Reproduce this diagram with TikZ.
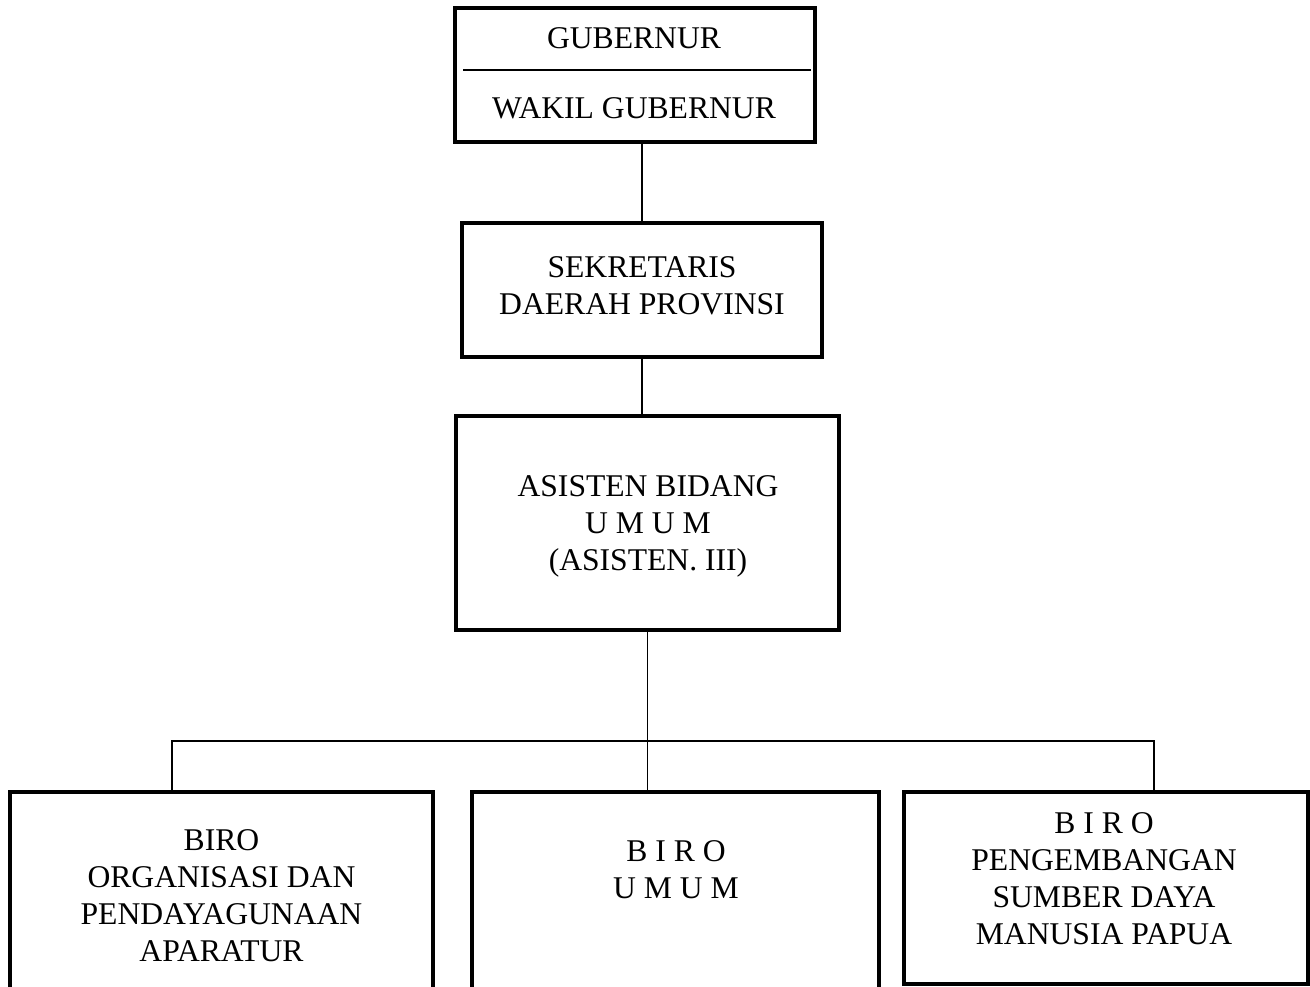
\documentclass[tikz,border=0pt]{standalone}
\usepackage{fontspec}
\setmainfont{Liberation Serif}
\usetikzlibrary{positioning}

\tikzset{
	kotak/.style={draw, rectangle, line width=2.3pt, inner sep=0pt},
	teks/.style={align=center, inner sep=0pt, font=\fontsize{18}{21}\selectfont},
	garis/.style={line width=1.1pt},
}

\begin{document}
\begin{tikzpicture}[x=0.02cm, y=-0.02cm]

	\useasboundingbox (0,0) rectangle (1310,986);

	% kotak-kotak
	\node[kotak, minimum width=7.2cm,  minimum height=2.68cm] (gub)  at (635,75)     {};
	\node[kotak, minimum width=7.2cm,  minimum height=2.68cm] (sekda) at (642,290)   {};
	\node[kotak, minimum width=7.66cm, minimum height=4.28cm] (asis) at (647.5,523)  {};
	\node[kotak, minimum width=8.46cm, minimum height=4.06cm] (b1)   at (221.5,893.5) {};
	\node[kotak, minimum width=8.14cm, minimum height=4.06cm] (b2)   at (675.5,893.5) {};
	\node[kotak, minimum width=8.08cm, minimum height=3.84cm] (b3)   at (1106,888)   {};

	% teks
	\node[teks] (gubt)   at (634,38)   {GUBERNUR};
	\node[teks] (wagubt) at (634,108)  {WAKIL GUBERNUR};
	\node[teks] (sekdat) at (642,286)  {SEKRETARIS\\DAERAH PROVINSI};
	\node[teks] (asist)  at (648,526)  {ASISTEN BIDANG\\U M U M\\(ASISTEN. III)};
	\node[teks] (b1t)    at (221.5,896) {BIRO\\ORGANISASI DAN\\PENDAYAGUNAAN\\APARATUR};
	\node[teks] (b2t)    at (676,870)  {B I R O\\U M U M};
	\node[teks] (b3t)    at (1104,879) {B I R O\\PENGEMBANGAN\\SUMBER DAYA\\MANUSIA PAPUA};

	\draw[line width=1pt] (463,70) -- (811,70);

	% garis hubung
	\coordinate (k1) at (172,741);
	\coordinate (k3) at (1154,741);

	\draw[garis] (sekda.north) -- (sekda.north |- gub.south);
	\draw[garis] (sekda.south) -- (sekda.south |- asis.north);
	\draw[garis] (asis.south) -- (asis.south |- b2.north);
	\draw[line width=1pt] (b1.north -| k1) -- (k1) -- (k3) -- (k3 |- b3.north);

\end{tikzpicture}
\end{document}
